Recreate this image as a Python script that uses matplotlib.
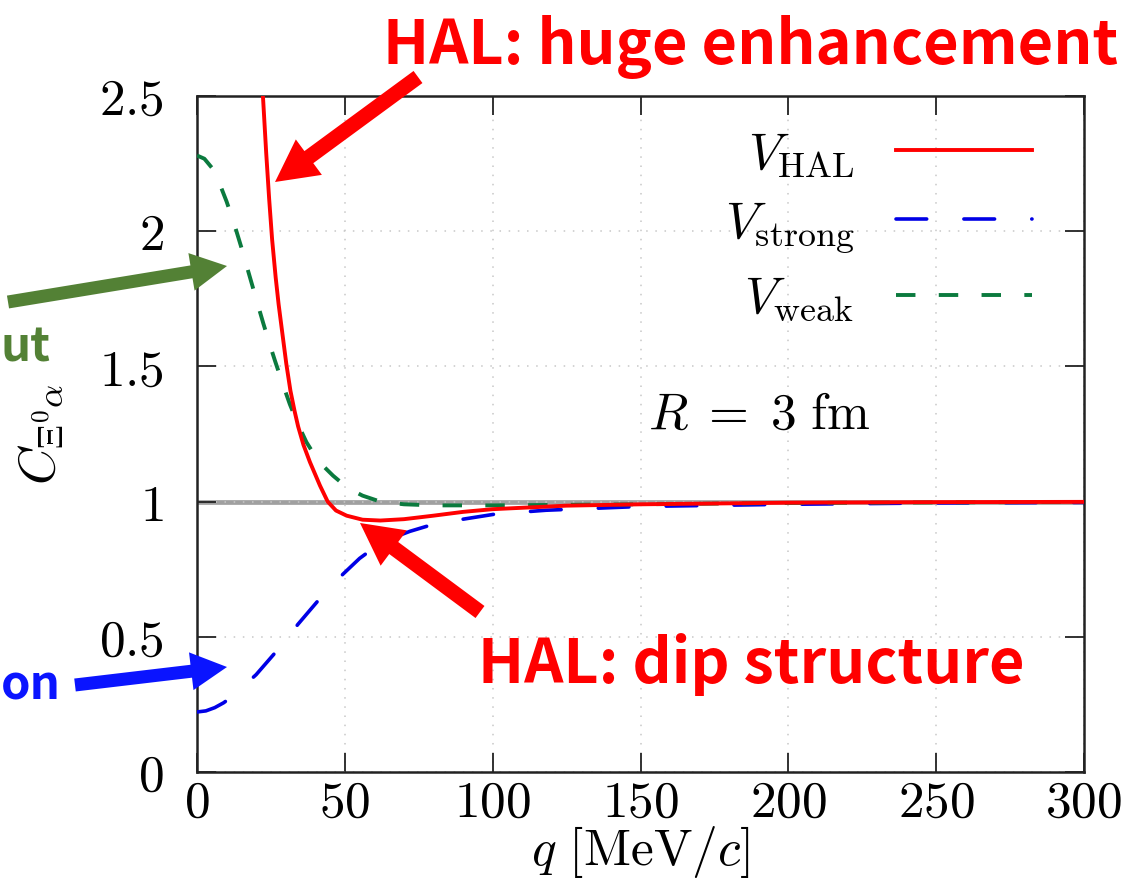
import matplotlib
matplotlib.use("Agg")
import matplotlib.pyplot as plt
from matplotlib.patches import FancyArrow
from matplotlib.transforms import IdentityTransform

plt.rcParams['mathtext.fontset'] = 'cm'
plt.rcParams['font.family'] = 'serif'
plt.rcParams['font.serif'] = ['cmr10', 'DejaVu Serif']
plt.rcParams['axes.formatter.use_mathtext'] = True

# V_HAL (red solid)
q_hal = [22.3, 23.4, 24.4, 25.4, 26.6, 27.6, 28.6, 30.2, 31.6, 33, 34.2, 36, 38.2, 40, 41.6, 44.2, 47, 50.6,
         56, 62, 70, 80, 90, 100, 125, 150, 200, 250, 300]
c_hal = [2.5, 2.29, 2.12, 1.97, 1.83, 1.73, 1.645, 1.51, 1.41, 1.335, 1.278, 1.21, 1.146, 1.10, 1.059, 1.0, 0.967, 0.948,
         0.933, 0.93, 0.935, 0.948, 0.962, 0.972, 0.985, 0.99, 0.996, 0.998, 0.999]

# V_strong (blue long dash)
q_strong = [0, 3, 6, 9, 12, 16, 20, 27.3, 34.2, 41.6, 49.4, 55, 60, 66, 72, 79, 90, 101, 118, 150, 200, 250, 300]
c_strong = [0.222, 0.226, 0.238, 0.256, 0.28, 0.32, 0.36, 0.452, 0.547, 0.642, 0.732, 0.79, 0.83, 0.865, 0.89,
            0.913, 0.935, 0.954, 0.968, 0.982, 0.99, 0.995, 0.997]

# V_weak (green dash)
q_weak = [0, 2.5, 5, 7.5, 10, 12.5, 15, 17.5, 20, 22.4, 24.5, 26.4, 29, 31.4, 34, 37, 41, 46, 51, 56, 62, 70, 80,
          100, 150, 200, 300]
c_weak = [2.28, 2.268, 2.235, 2.18, 2.11, 2.03, 1.94, 1.845, 1.75, 1.66, 1.585, 1.52, 1.435, 1.36, 1.29, 1.22,
          1.15, 1.096, 1.05, 1.022, 1.0, 0.99, 0.986, 0.986, 0.99, 0.995, 0.999]

xticks = [0, 50, 100, 150, 200, 250, 300]
yticks = [0, 0.5, 1, 1.5, 2, 2.5]
ytick_labels = ['0', '0.5', '1', '1.5', '2', '2.5']

W, H = 1127, 879
fig = plt.figure(figsize=(W / 100, H / 100), dpi=100)
ax = fig.add_axes([197 / W, 1 - 773 / H, 887 / W, 676 / H])

ax.axhline(1, color='#a0a0a0', lw=3.4, zorder=1)
ax.plot(q_hal, c_hal, color='#ff0000', lw=2.8, label=r'$V_{\mathrm{HAL}}$', zorder=4)
ax.plot(q_strong, c_strong, color='#0000e6', lw=2.6, dashes=(8.5, 10.3), dash_capstyle='round',
        label=r'$V_{\mathrm{strong}}$', zorder=3)
ax.plot(q_weak, c_weak, color='#0b7a3e', lw=2.8, dashes=(5.0, 6.0),
        label=r'$V_{\mathrm{weak}}$', zorder=3)

ax.set_xlim(0, 300)
ax.set_ylim(0, 2.5)
ax.set_xticks(xticks)
ax.set_xticklabels(['$%d$' % t for t in xticks])
ax.set_yticks(yticks)
ax.set_yticklabels(['$%s$' % t for t in ytick_labels])
ax.tick_params(direction='in', length=14, width=1.3, top=True, right=True,
               labelsize=37, color='#222222')
ax.tick_params(axis='x', pad=6)
ax.tick_params(axis='y', pad=24)
for s in ax.spines.values():
    s.set_linewidth(1.8)
    s.set_color('#222222')
ax.grid(True, color='#c8c8c8', lw=1.1, linestyle=(0, (1, 5)))

ax.set_xlabel(r'$q\ [\mathrm{MeV}/c]$', fontsize=37, labelpad=-2)
ax.set_ylabel(r'$C_{\Xi^0\alpha}$', fontsize=37)
ax.yaxis.set_label_coords(-0.148, 0.5)

ax.legend(loc='upper right', bbox_to_anchor=(0.97, 0.987), frameon=False,
          markerfirst=False, fontsize=37, handlelength=2.65, handletextpad=0.8,
          labelspacing=0.4, borderpad=0)
ax.text(190, 1.32, r'$R\;=\;3\ \mathrm{fm}$', fontsize=37, ha='center', va='center')

# annotations in pixel space (origin top-left)
def arrow(x0, y0, x1, y1, color, w=13, hw=38, hl=36):
    a = FancyArrow(x0, H - y0, x1 - x0, -(y1 - y0), width=w, head_width=hw,
                   head_length=hl, length_includes_head=True, color=color,
                   lw=0, transform=IdentityTransform())
    fig.add_artist(a)

def label(x, y, s, color, size=44):
    fig.text(x / W, 1 - y / H, s, color=color, fontsize=size, fontweight='bold',
             family=['Noto Sans CJK KR', 'DejaVu Sans'], ha='left', va='baseline')

arrow(418, 78, 275, 183, '#ff0000', w=15, hw=44, hl=42)
arrow(480, 613, 360, 524, '#ff0000', w=15, hw=44, hl=42)
arrow(8, 303, 227, 267, '#538135')
arrow(75, 686, 227, 668, '#0a14ff')

label(383, 64, 'HAL: huge enhancement', '#ff0000')
label(478, 683, 'HAL: dip structure', '#ff0000')
label(1, 362, 'ut', '#538135', size=34)
label(1, 700, 'on', '#0a14ff', size=34)

fig.savefig('out.png', dpi=100)
